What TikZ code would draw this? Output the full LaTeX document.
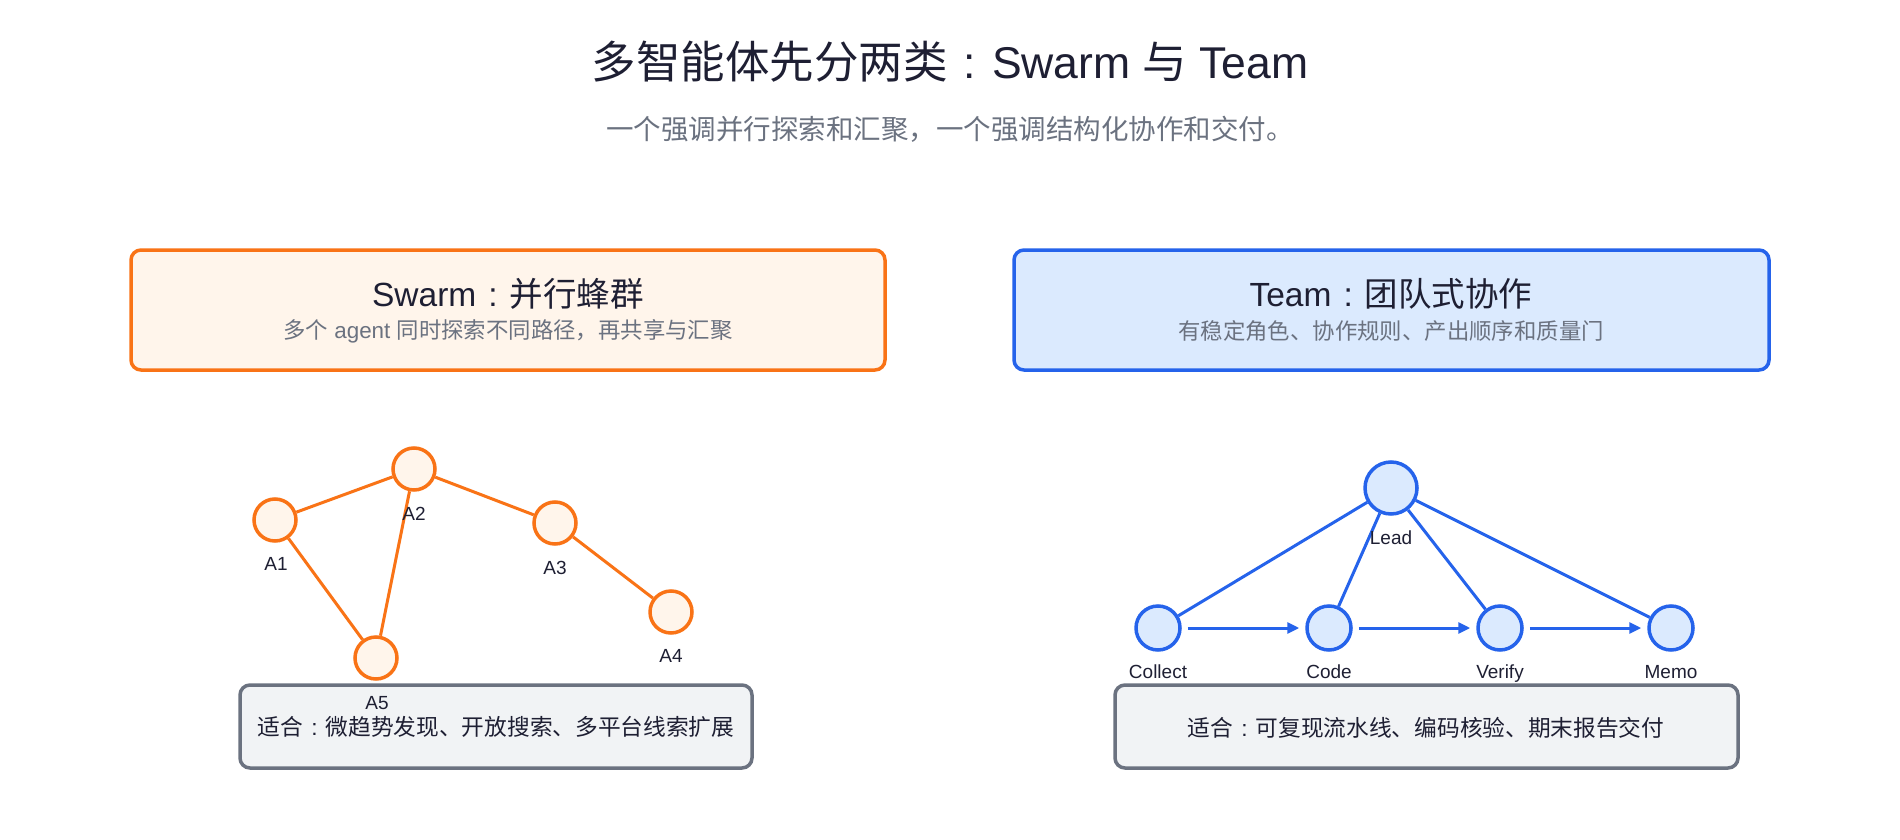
\documentclass[tikz,border=0pt]{standalone}
\usepackage{fontspec}
\setmainfont{Liberation Sans}
\newfontfamily\cjk{Noto Sans CJK SC}
\newcommand{\fwcolon}{\makebox[1em][c]{:}}
\usetikzlibrary{arrows.meta}
\definecolor{orng}{HTML}{F97316}
\definecolor{orngfill}{HTML}{FFF5EB}
\definecolor{blu}{HTML}{2563EB}
\definecolor{blufill}{HTML}{DBEAFE}
\definecolor{gborder}{HTML}{6B7280}
\definecolor{gfill}{HTML}{F1F3F5}
\definecolor{ink}{HTML}{1E1F33}
\definecolor{muted}{HTML}{6B7280}
\tikzset{
  panel/.style={rounded corners=10pt, line width=3.5pt},
  swarmpanel/.style={panel, draw=orng, fill=orngfill},
  teampanel/.style={panel, draw=blu, fill=blufill},
  fitpanel/.style={panel, draw=gborder, fill=gfill},
  snode/.style={circle, draw=orng, fill=orngfill, line width=3.5pt, inner sep=0pt, minimum size=42pt},
  tnode/.style={circle, draw=blu, fill=blufill, line width=3.5pt, inner sep=0pt, minimum size=44pt},
  leadnode/.style={tnode, minimum size=52pt},
  sedge/.style={draw=orng, line width=3pt},
  tedge/.style={draw=blu, line width=3pt},
  tarrow/.style={tedge, -{Triangle[length=12pt,width=11pt]}, shorten <=6pt, shorten >=6pt},
  lbl/.style={text=ink, font=\fontsize{19}{22}\selectfont, inner sep=0pt, anchor=base},
}
\begin{document}
\begin{tikzpicture}[x=1pt,y=-1pt]
\useasboundingbox (0,0) rectangle (1900,840);
\fill[white] (0,0) rectangle (1900,840);
% titles
\node[text=ink, inner sep=0pt] (title) at (950,62) {\fontsize{44.5}{52}\selectfont{\cjk 多智能体先分两类}\fwcolon Swarm {\cjk 与} Team};
\node[text=muted, inner sep=0pt] (subtitle) at (950,129) {\fontsize{27.5}{33}\selectfont\cjk 一个强调并行探索和汇聚，一个强调结构化协作和交付。};
% panels
\draw[swarmpanel] (131,250) rectangle (885,370);
\node[text=ink, inner sep=0pt] (swt) at (508,294) {\fontsize{33.5}{40}\selectfont Swarm\fwcolon{\cjk 并行蜂群}};
\node[text=muted, inner sep=0pt] (sws) at (508,331) {\fontsize{22.4}{27}\selectfont{\cjk 多个} agent {\cjk 同时探索不同路径，再共享与汇聚}};
\draw[teampanel] (1014,250) rectangle (1769,370);
\node[text=ink, inner sep=0pt] (tmt) at (1391,294) {\fontsize{33.5}{40}\selectfont Team\fwcolon{\cjk 团队式协作}};
\node[text=muted, inner sep=0pt] (tms) at (1391,331) {\fontsize{22.4}{27}\selectfont\cjk 有稳定角色、协作规则、产出顺序和质量门};
% swarm graph
\node[snode] (A1) at (275,520) {};
\node[snode] (A2) at (414,469) {};
\node[snode] (A3) at (555,523) {};
\node[snode] (A4) at (671,612) {};
\node[snode] (A5) at (376,658) {};
\draw[sedge] (A1) -- (A2);
\draw[sedge] (A2) -- (A3);
\draw[sedge] (A3) -- (A4);
\draw[sedge] (A1) -- (A5);
\draw[sedge] (A2) -- (A5);
\node[lbl] (A1l) at (276,570) {A1};
\node[lbl] (A2l) at (414,520) {A2};
\node[lbl] (A3l) at (555,574) {A3};
\node[lbl] (A4l) at (671,662) {A4};
% team graph
\node[leadnode] (Lead) at (1391,488) {};
\node[tnode] (Collect) at (1158,628) {};
\node[tnode] (Code) at (1329,628) {};
\node[tnode] (Verify) at (1500,628) {};
\node[tnode] (Memo) at (1671,628) {};
\draw[tedge] (Lead) -- (Collect);
\draw[tedge] (Lead) -- (Code);
\draw[tedge] (Lead) -- (Verify);
\draw[tedge] (Lead) -- (Memo);
\draw[tarrow] (Collect) -- (Code);
\draw[tarrow] (Code) -- (Verify);
\draw[tarrow] (Verify) -- (Memo);
\node[lbl] (Leadl) at (1391,544) {Lead};
\node[lbl] (Collectl) at (1158,678) {Collect};
\node[lbl] (Codel) at (1329,678) {Code};
\node[lbl] (Verifyl) at (1500,678) {Verify};
\node[lbl] (Memol) at (1671,678) {Memo};
% fit panels
\draw[fitpanel] (240,685) rectangle (752,768);
\node[text=ink, inner sep=0pt] (sfit) at (496,727) {\fontsize{22.7}{27}\selectfont{\cjk 适合}\fwcolon{\cjk 微趋势发现、开放搜索、多平台线索扩展}};
\node[lbl] (A5l) at (377,709) {A5};
\draw[fitpanel] (1115,685) rectangle (1738,768);
\node[text=ink, inner sep=0pt] (tfit) at (1426,728) {\fontsize{22.7}{27}\selectfont{\cjk 适合}\fwcolon{\cjk 可复现流水线、编码核验、期末报告交付}};
\end{tikzpicture}
\end{document}
